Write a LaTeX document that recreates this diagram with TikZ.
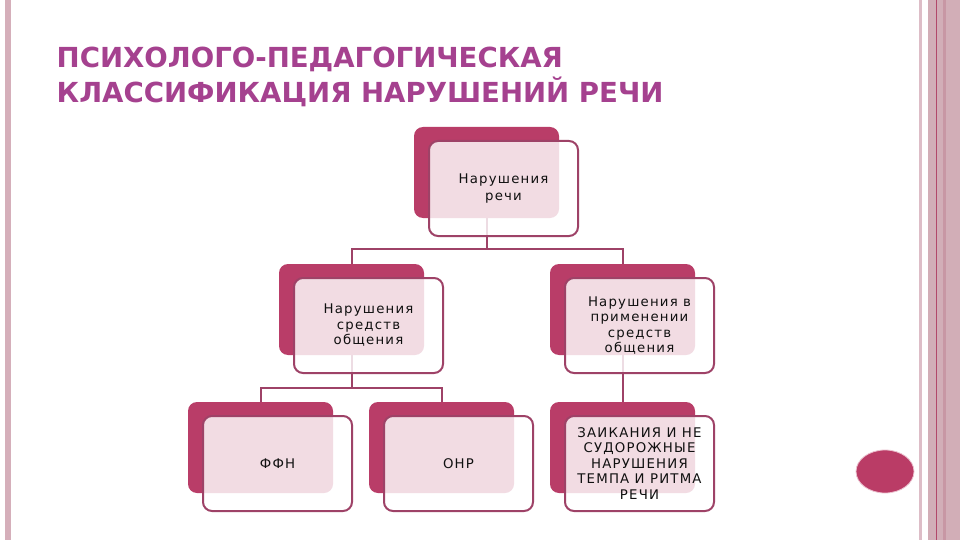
\documentclass[tikz,border=0pt]{standalone}
\usepackage{fontspec}
\setmainfont{DejaVu Sans}
\newfontfamily\boxfont[LetterSpace=9]{DejaVu Sans}
\definecolor{backc}{HTML}{B93D68}
\definecolor{edgec}{HTML}{9E4267}
\definecolor{titlec}{HTML}{A5418F}
\definecolor{textc}{HTML}{101010}
\definecolor{barc}{HTML}{D5AFBA}
\definecolor{thinbar}{HTML}{DDBDC7}
\definecolor{widebar}{HTML}{D2AEB7}
\definecolor{darkline}{HTML}{B2486A}
\definecolor{stripec}{HTML}{C897A4}
\definecolor{dotc}{HTML}{BA3C66}
\definecolor{dotedge}{HTML}{EBC0CE}
\pgfdeclarelayer{bglayer}
\pgfdeclarelayer{connlayer}
\pgfsetlayers{bglayer,connlayer,main}
\tikzset{
  backbox/.style={draw=none, fill=backc, rounded corners=9pt, minimum width=145pt, minimum height=91pt, anchor=north west, inner sep=0pt, outer sep=0pt},
  frontbox/.style={draw=edgec, line width=2pt, fill=white, fill opacity=0.82, text opacity=1, rounded corners=9pt, minimum width=149pt, minimum height=95pt, anchor=north west, inner sep=0pt, outer sep=0pt, align=center, text=textc, font=\boxfont\fontsize{13.3}{15.5}\selectfont},
  conn/.style={draw=edgec, line width=2pt},
  titletext/.style={anchor=base west, inner sep=0pt, text=titlec, font=\bfseries\fontsize{27.6}{32}\selectfont},
}
\begin{document}
\begin{tikzpicture}[x=1pt, y=-1pt]
\useasboundingbox (0,0) rectangle (960,540);
\begin{pgfonlayer}{bglayer}
\fill[white] (0,0) rectangle (960,540);
\end{pgfonlayer}
% side bars
\fill[barc] (5,0) rectangle (11,540);
\fill[thinbar] (919,0) rectangle (922,540);
\fill[widebar] (928,0) rectangle (960,540);
\fill[stripec] (943,0) rectangle (946,540);
\fill[darkline] (935.5,0) rectangle (936.7,540);
% dot
\filldraw[fill=dotc, draw=dotedge, line width=0.8pt] (885,471.5) ellipse [x radius=29, y radius=21.5];
% title
\node[titletext] (title1) at (56.5,68) {ПСИХОЛОГО-ПЕДАГОГИЧЕСКАЯ};
\node[titletext] (title2) at (56.5,103) {КЛАССИФИКАЦИЯ НАРУШЕНИЙ РЕЧИ};
% boxes
\node[backbox] (b-top) at (414,127) {};
\node[frontbox] (f-top) at (429,141) {Нарушения\\[1.5pt]речи};
\node[backbox] (b-l2l) at (279,264) {};
\node[frontbox] (f-l2l) at (294,278) {Нарушения\\средств\\общения};
\node[backbox] (b-l2r) at (550,264) {};
\node[frontbox] (f-l2r) at (565,278) {Нарушения в\\применении\\средств\\общения};
\node[backbox] (b-ffn) at (188,402) {};
\node[frontbox] (f-ffn) at (203,416) {ФФН};
\node[backbox] (b-onr) at (369,402) {};
\node[frontbox] (f-onr) at (384,416) {ОНР};
\node[backbox] (b-zai) at (550,402) {};
\node[frontbox] (f-zai) at (565,416) {ЗАИКАНИЯ И НЕ\\СУДОРОЖНЫЕ\\НАРУШЕНИЯ\\ТЕМПА И РИТМА\\РЕЧИ};
% connectors
\coordinate (h1) at (486.5,249);
\coordinate (h2) at (351.5,388);
\begin{pgfonlayer}{connlayer}
\draw[conn] (b-top.center) -- (h1);
\draw[conn] (b-l2l.center) |- (h1) -| (b-l2r.center);
\draw[conn] (b-l2l.center) -- (h2);
\draw[conn] (b-ffn.center) |- (h2) -| (b-onr.center);
\draw[conn] (b-l2r.center) -- (b-zai.center);
\end{pgfonlayer}
\end{tikzpicture}
\end{document}
